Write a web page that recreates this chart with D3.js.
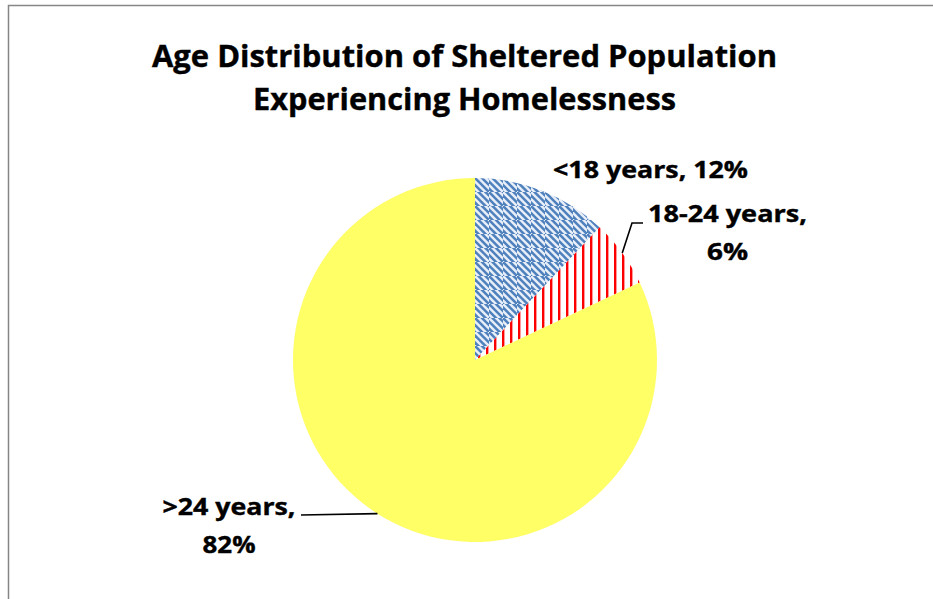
<!DOCTYPE html>
<html>
<head>
<meta charset="utf-8">
<script src="https://cdn.jsdelivr.net/npm/d3@7"></script>
<style>
  html, body { margin: 0; padding: 0; background: #fff; overflow: hidden; }
  text { font-family: 'Open Sans', 'Noto Sans', sans-serif; font-weight: bold; fill: #000; stroke: #000; stroke-width: 0.4px; }
</style>
</head>
<body>
<div id="chart"></div>
<script>
const categories = ['<18 years', '18-24 years', '>24 years'];
const values = [12, 6, 82];
const titleLines = ['Age Distribution of Sheltered Population', 'Experiencing Homelessness'];

const width = 933;
const height = 599;

const svg = d3.select('#chart')
  .append('svg')
  .attr('width', width)
  .attr('height', height);

const defs = svg.append('defs');

// blue weave-like pattern: 14px cells of diagonal stripes, alternate cells shifted
const weave = defs.append('pattern')
  .attr('id', 'weave')
  .attr('patternUnits', 'userSpaceOnUse')
  .attr('width', 28)
  .attr('height', 28);
[[0, 0, 0], [14, 0, 3.5], [0, 14, 3.5], [14, 14, 0]].forEach(([cx, cy, off]) => {
  const cell = weave.append('svg')
    .attr('x', cx).attr('y', cy)
    .attr('width', 14).attr('height', 14)
    .attr('overflow', 'hidden');
  cell.append('rect').attr('width', 14).attr('height', 14).attr('fill', '#4f81bd');
  for (let k = -3; k <= 3; k++) {
    const x0 = k * 7 + off;
    cell.append('line')
      .attr('x1', x0 - 14).attr('y1', -14)
      .attr('x2', x0 + 28).attr('y2', 28)
      .attr('stroke', '#e8eff8')
      .attr('stroke-width', 2.4);
  }
});

// red narrow vertical lines
const vert = defs.append('pattern')
  .attr('id', 'vert')
  .attr('patternUnits', 'userSpaceOnUse')
  .attr('width', 8)
  .attr('height', 8);
vert.append('rect').attr('width', 8).attr('height', 8).attr('fill', '#fff');
vert.append('rect').attr('x', 3).attr('width', 2.4).attr('height', 8).attr('fill', '#ff0000');

const fills = ['url(#weave)', 'url(#vert)', '#ffff66'];

// chart area border (runs off the right and bottom edge)
svg.append('rect')
  .attr('x', 8.5)
  .attr('y', 5.5)
  .attr('width', 1000)
  .attr('height', 1000)
  .attr('fill', 'none')
  .attr('stroke', '#868686')
  .attr('stroke-width', 1.5);

// title
const titleWidths = [625, 423];
svg.selectAll('.title')
  .data(titleLines)
  .enter()
  .append('text')
  .attr('class', 'title')
  .attr('x', 464.5)
  .attr('y', (d, i) => 67 + i * 43)
  .attr('text-anchor', 'middle')
  .attr('font-size', 31)
  .attr('textLength', (d, i) => titleWidths[i])
  .attr('lengthAdjust', 'spacingAndGlyphs')
  .text((d) => d);

const cx = 475;
const cy = 360;
const radius = 182;

const pie = d3.pie().sort(null).value((d) => d);
const arcs = pie(values);
const arc = d3.arc().innerRadius(0).outerRadius(radius);

const graph = svg.append('g').attr('transform', `translate(${cx}, ${cy})`);

graph.selectAll('path')
  .data(arcs)
  .enter()
  .append('path')
  .attr('d', arc)
  .attr('fill', (d, i) => fills[i]);

// point on the rim at the middle of a slice
function rim(d) {
  const a = (d.startAngle + d.endAngle) / 2;
  return [radius * Math.sin(a), -radius * Math.cos(a)];
}

const labelText = categories.map((c, i) => `${c}, ${values[i]}%`);

// label layout, relative to the pie centre
const labels = [
  { lines: [labelText[0]], x: 175.5, y: -182, widths: [195], leader: null },
  { lines: [categories[1] + ',', values[1] + '%'], x: 252.5, y: -138, widths: [159, 41],
    leader: (p) => [p, [157, -137], [168, -137]] },
  { lines: [categories[2] + ',', values[2] + '%'], x: -246, y: 155, widths: [133, 53],
    leader: (p) => [p, [-174, 155]] },
];

labels.forEach((l, i) => {
  const t = graph.append('text')
    .attr('text-anchor', 'middle')
    .attr('font-size', 24);
  l.lines.forEach((line, j) => {
    t.append('tspan')
      .attr('x', l.x)
      .attr('y', l.y + j * 38)
      .attr('textLength', l.widths[j])
      .attr('lengthAdjust', 'spacingAndGlyphs')
      .text(line);
  });
  if (l.leader) {
    graph.append('path')
      .attr('d', d3.line()(l.leader(rim(arcs[i]))))
      .attr('fill', 'none')
      .attr('stroke', '#000')
      .attr('stroke-width', 1.6);
  }
});
</script>
</body>
</html>
